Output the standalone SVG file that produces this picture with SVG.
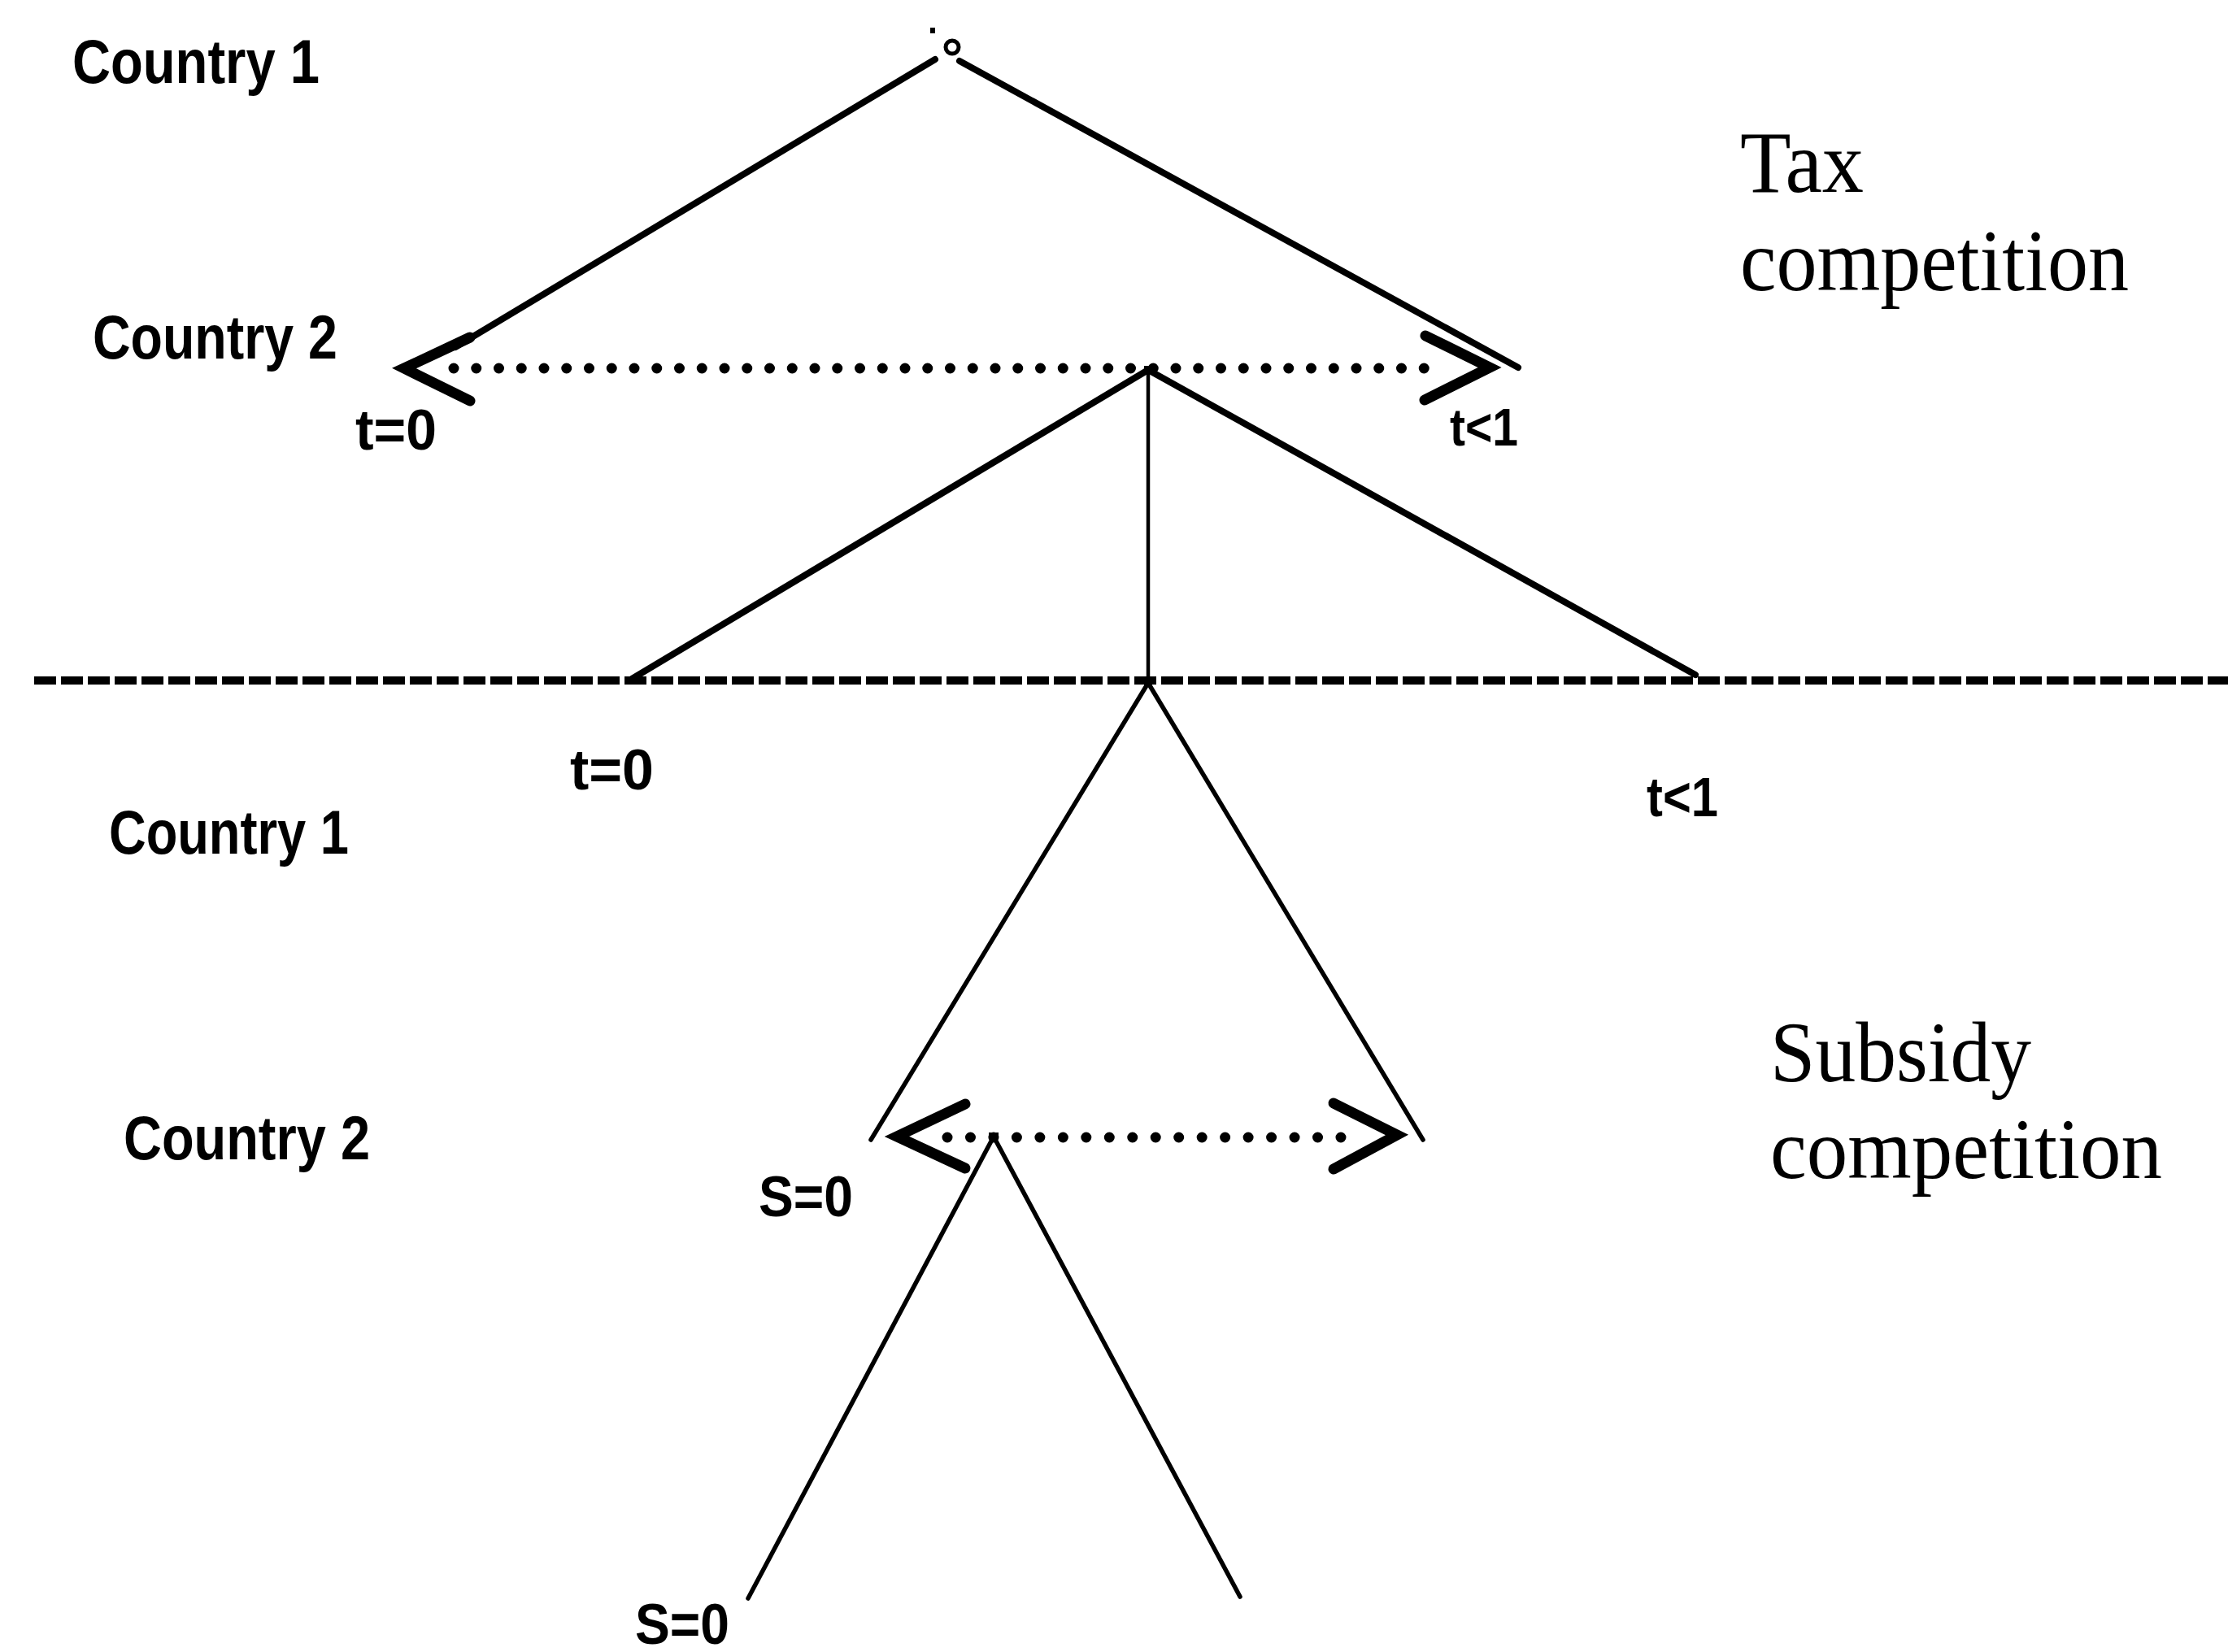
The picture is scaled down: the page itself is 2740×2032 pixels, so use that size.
<svg xmlns="http://www.w3.org/2000/svg" width="2740" height="2032" viewBox="0 0 2740 2032">
<style>
  .lbl { font-family: "Liberation Sans", Arial, sans-serif; font-weight: bold; fill: #000; }
  .big { font-family: "Liberation Serif", "Times New Roman", serif; fill: #000; }
  .edge { stroke: #000; fill: none; stroke-linecap: round; }
  .thick { stroke-width: 8; }
  .thin { stroke-width: 5.5; }
  .vert { stroke-width: 4.5; }
  .arrow { stroke: #000; fill: none; stroke-width: 13; stroke-linecap: round; stroke-linejoin: miter; }
  .dots { stroke: #000; stroke-width: 13; stroke-linecap: round; fill: none; }
  .dash { stroke: #000; stroke-width: 10; stroke-dasharray: 27 6; fill: none; }
</style>
<rect width="2740" height="2032" fill="#fff"/>

<g id="connectors">
  <!-- tax stage: root -> country 2 -->
  <line class="edge thick" x1="1150" y1="73" x2="560" y2="427"/>
  <line class="edge thick" x1="1180" y1="75" x2="1867" y2="452"/>
  <!-- country 2 branches -->
  <line class="edge thick" x1="1412" y1="455" x2="777" y2="835"/>
  <line class="edge vert" x1="1412" y1="455" x2="1412" y2="838"/>
  <line class="edge thick" x1="1412" y1="455" x2="2085" y2="830"/>
  <!-- subsidy stage: country 1 -->
  <line class="edge thin" x1="1412" y1="840" x2="1071" y2="1402"/>
  <line class="edge thin" x1="1412" y1="840" x2="1750" y2="1402"/>
  <!-- subsidy stage: country 2 -->
  <line class="edge thin" x1="1222" y1="1398" x2="920" y2="1966"/>
  <line class="edge thin" x1="1222" y1="1398" x2="1525" y2="1964"/>
  <!-- information sets (dotted double arrows) -->
  <line class="dots" x1="558" y1="453" x2="1779" y2="453" stroke-dasharray="0 27.75"/>
  <polyline class="arrow" points="578,415 497,453 578,493"/>
  <polyline class="arrow" points="1753,413 1832,452 1752,492"/>
  <line class="dots" x1="1165" y1="1399" x2="1649" y2="1399" stroke-dasharray="0 28.47"/>
  <polyline class="arrow" points="1187,1358 1103,1398 1187,1437"/>
  <polyline class="arrow" points="1640,1357 1718,1396 1640,1438"/>
  <!-- stage separator -->
  <line class="dash" x1="42" y1="837" x2="2740" y2="837"/>
</g>

<g id="node-root">
  <rect x="1144" y="34" width="6" height="7" fill="#000"/>
  <circle cx="1171" cy="58" r="8" fill="#fff" stroke="#000" stroke-width="5"/>
</g>
<g id="node-country2-tax">
  <rect x="1407" y="450" width="10" height="8" fill="#000"/>
</g>
<g id="node-country1-subsidy">
  <rect x="1407" y="834" width="10" height="10" fill="#000"/>
</g>
<g id="node-country2-subsidy">
  <rect x="1216" y="1393" width="12" height="8" fill="#000"/>
</g>

<g id="labels">
  <text class="lbl" x="89" y="102" font-size="76" textLength="304" lengthAdjust="spacingAndGlyphs">Country 1</text>
  <text class="lbl" x="114" y="441" font-size="76" textLength="301" lengthAdjust="spacingAndGlyphs">Country 2</text>
  <text class="lbl" x="437" y="553" font-size="70" textLength="100" lengthAdjust="spacingAndGlyphs">t=0</text>
  <text class="lbl" x="1783" y="548" font-size="64" textLength="84" lengthAdjust="spacingAndGlyphs">t&lt;1</text>
  <text class="lbl" x="701" y="971" font-size="70" textLength="103" lengthAdjust="spacingAndGlyphs">t=0</text>
  <text class="lbl" x="2025" y="1004" font-size="68" textLength="88" lengthAdjust="spacingAndGlyphs">t&lt;1</text>
  <text class="lbl" x="134" y="1050" font-size="76" textLength="295" lengthAdjust="spacingAndGlyphs">Country 1</text>
  <text class="lbl" x="152" y="1426" font-size="76" textLength="303" lengthAdjust="spacingAndGlyphs">Country 2</text>
  <text class="lbl" x="933" y="1496" font-size="70" textLength="116" lengthAdjust="spacingAndGlyphs">S=0</text>
  <text class="lbl" x="781" y="2022" font-size="70" textLength="116" lengthAdjust="spacingAndGlyphs">S=0</text>
  <text class="big" x="2140" y="236" font-size="108" textLength="152" lengthAdjust="spacingAndGlyphs">Tax</text>
  <text class="big" x="2140" y="357" font-size="108" textLength="478" lengthAdjust="spacingAndGlyphs">competition</text>
  <text class="big" x="2177" y="1330" font-size="106" textLength="321" lengthAdjust="spacingAndGlyphs">Subsidy</text>
  <text class="big" x="2177" y="1449" font-size="106" textLength="482" lengthAdjust="spacingAndGlyphs">competition</text>
</g>
</svg>
